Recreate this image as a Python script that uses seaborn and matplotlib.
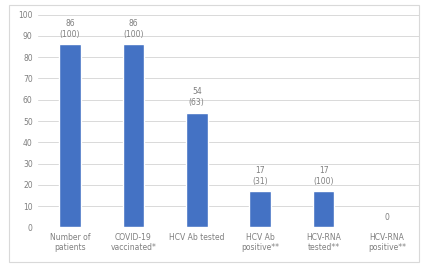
import matplotlib.pyplot as plt
import seaborn as sns
import pandas as pd
from matplotlib.patches import Rectangle

categories = ["Number of\npatients", "COVID-19\nvaccinated*", "HCV Ab tested",
              "HCV Ab\npositive**", "HCV-RNA\ntested**", "HCV-RNA\npositive**"]
counts = [86, 86, 54, 17, 17, 0]
percents = ["100", "100", "63", "31", "100", None]

df = pd.DataFrame({"Category": categories, "Count": counts})

sns.set_style("white")
fig = plt.figure(figsize=(4.25, 2.66), dpi=100)
ax = fig.add_axes([0.09, 0.145, 0.895, 0.80])

sns.barplot(data=df, x="Category", y="Count", color="#4472C4", width=0.34,
            saturation=1, ax=ax)

ax.set_ylim(0, 100)
ax.set_yticks(range(0, 101, 10))
ax.grid(axis="y", color="#d9d9d9", linewidth=0.7)
ax.set_axisbelow(True)
for s in ax.spines.values():
    s.set_visible(False)
ax.set_xlabel("")
ax.set_ylabel("")
ax.tick_params(axis="both", length=0, labelsize=5.5, colors="#7f7f7f", pad=4)
ax.set_xlim(-0.5, 5.5)

for i, (c, p) in enumerate(zip(counts, percents)):
    txt = f"{c}\n({p})" if p else f"{c}"
    ax.text(i, c + 2.5, txt, ha="center", va="bottom", fontsize=5.5,
            color="#7f7f7f", linespacing=1.3)

fig.patches.append(Rectangle((0.02, 0.015), 0.965, 0.965, transform=fig.transFigure,
                             fill=False, edgecolor="#d9d9d9", linewidth=0.8))

fig.savefig("out.png", dpi=100)
